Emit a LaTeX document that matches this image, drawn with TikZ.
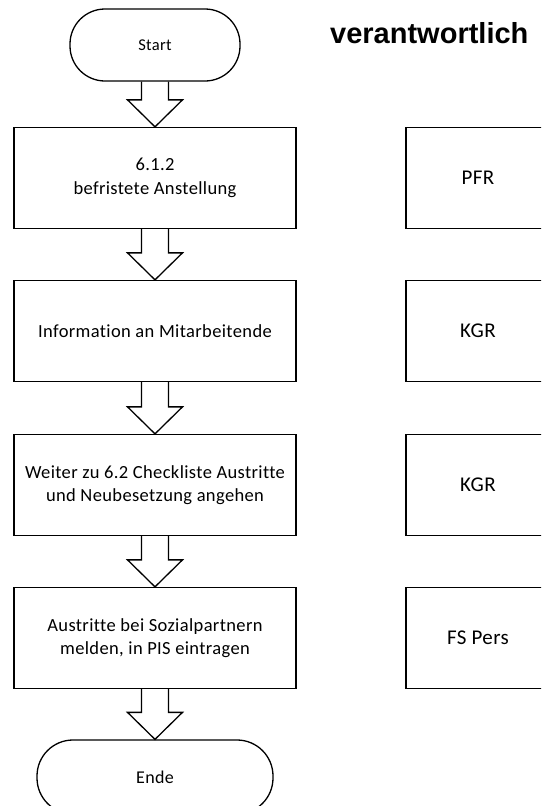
\documentclass[tikz,border=0pt]{standalone}
\usepackage{fontspec}
\setmainfont{Carlito}[Ligatures=NoCommon, LetterSpace=2]
\newfontfamily\headfont{Liberation Sans}
\usetikzlibrary{calc}

\tikzset{
  flowline/.style={line width=1.3pt, black},
  terminal/.style={flowline, draw, rectangle, rounded corners=35pt,
    minimum height=72pt, inner sep=0pt, font=\fontsize{16.5}{20}\selectfont},
  stepbox/.style={flowline, draw, rectangle, minimum width=282pt,
    minimum height=101pt, inner sep=0pt, align=center,
    font=\fontsize{18.5}{23.5}\selectfont},
  respbox/.style={flowline, draw, rectangle, minimum width=144pt,
    minimum height=101pt, inner sep=0pt, align=center,
    font=\fontsize{21}{24}\selectfont},
  heading/.style={font=\headfont\bfseries\fontsize{29}{33}\selectfont,
    inner sep=0pt, anchor=base west},
}

% hollow block arrow from the bottom of one node to the top of the next
\newcommand{\flowarrow}[2]{%
  \draw[flowline, line join=miter]
    let \p1=(#1.south), \p2=(#2.north) in
    (\x1-13.5pt,\y1) -- (\x1-13.5pt,\y2+27pt) -- (\x1-27.5pt,\y2+27pt)
    -- (\x1,\y2) -- (\x1+27.5pt,\y2+27pt) -- (\x1+13.5pt,\y2+27pt)
    -- (\x1+13.5pt,\y1);}

\begin{document}
\begin{tikzpicture}[x=1pt,y=-1pt]
  \useasboundingbox (0,0) rectangle (541,806);
  \clip (0,0) rectangle (541,806);
  \fill[white] (0,0) rectangle (541,806);

  % main sequence
  \node[terminal, minimum width=170pt] (start) at (155,45) {Start};
  \node[stepbox] (s1) at (155,178) {6.1.2\\befristete Anstellung};
  \node[stepbox] (s2) at (155,331) {Information an Mitarbeitende};
  \node[stepbox] (s3) at (155,485) {Weiter zu 6.2 Checkliste Austritte\\und Neubesetzung angehen};
  \node[stepbox] (s4) at (155,638) {Austritte bei Sozialpartnern\\melden, in PIS eintragen};
  \node[terminal, minimum width=236pt, minimum height=74pt, rounded corners=36pt,
        font=\fontsize{18}{22}\selectfont] (ende) at (155,777) {Ende};

  \flowarrow{start}{s1}
  \flowarrow{s1}{s2}
  \flowarrow{s2}{s3}
  \flowarrow{s3}{s4}
  \flowarrow{s4}{ende}

  % responsibilities
  \node[heading] (head) at (330,43) {verantwortlich};
  \node[respbox] (r1) at (478,178) {PFR};
  \node[respbox] (r2) at (478,331) {KGR};
  \node[respbox] (r3) at (478,485) {KGR};
  \node[respbox] (r4) at (478,638) {FS Pers};
\end{tikzpicture}
\end{document}
